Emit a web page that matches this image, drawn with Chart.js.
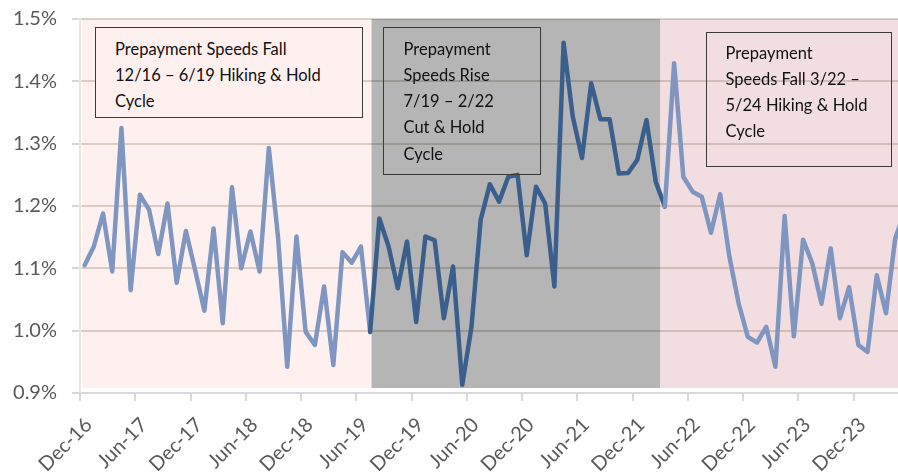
<!DOCTYPE html>
<html><head><meta charset="utf-8">
<script src="https://cdn.jsdelivr.net/npm/chart.js@4.4.1/dist/chart.umd.min.js"></script>
<style>
html,body{margin:0;padding:0;background:#fff;overflow:hidden;width:898px;height:474px}
#wrap{position:relative;width:912px;height:474px}
canvas{display:block}
.note{position:absolute;border:1.5px solid #3a3a3a;font-family:Lato,"Open Sans",sans-serif;font-size:16.5px;line-height:26.3px;color:#111;box-sizing:border-box;white-space:nowrap}
</style></head>
<body>
<div id="wrap">
<canvas id="c" width="912" height="474"></canvas>
<div class="note" style="left:95px;top:27px;width:268px;height:91px;padding:7.5px 0 0 19px;background:#FFF0F0">Prepayment Speeds Fall<br>12/16 – 6/19 Hiking &amp; Hold<br>Cycle</div>
<div class="note" style="left:383px;top:27px;width:158px;height:148px;padding:7.5px 0 0 19.5px">Prepayment<br>Speeds Rise<br>7/19 – 2/22<br>Cut &amp; Hold<br>Cycle</div>
<div class="note" style="left:706px;top:32px;width:186px;height:135px;padding:6.5px 0 0 18.5px">Prepayment<br>Speeds Fall 3/22 –<br>5/24 Hiking &amp; Hold<br>Cycle</div>
</div>
<script>
// Categories (monthly)
const months = [
"Dec-16","Jan-17","Feb-17","Mar-17","Apr-17","May-17","Jun-17","Jul-17","Aug-17","Sep-17","Oct-17","Nov-17",
"Dec-17","Jan-18","Feb-18","Mar-18","Apr-18","May-18","Jun-18","Jul-18","Aug-18","Sep-18","Oct-18","Nov-18",
"Dec-18","Jan-19","Feb-19","Mar-19","Apr-19","May-19","Jun-19","Jul-19","Aug-19","Sep-19","Oct-19","Nov-19",
"Dec-19","Jan-20","Feb-20","Mar-20","Apr-20","May-20","Jun-20","Jul-20","Aug-20","Sep-20","Oct-20","Nov-20",
"Dec-20","Jan-21","Feb-21","Mar-21","Apr-21","May-21","Jun-21","Jul-21","Aug-21","Sep-21","Oct-21","Nov-21",
"Dec-21","Jan-22","Feb-22","Mar-22","Apr-22","May-22","Jun-22","Jul-22","Aug-22","Sep-22","Oct-22","Nov-22",
"Dec-22","Jan-23","Feb-23","Mar-23","Apr-23","May-23","Jun-23","Jul-23","Aug-23","Sep-23","Oct-23","Nov-23",
"Dec-23","Jan-24","Feb-24","Mar-24","Apr-24","May-24"
];
// Series values (% prepayment speed)
const speeds = [
1.105,1.135,1.188,1.095,1.325,1.065,1.218,1.194,1.123,1.204,
1.077,1.160,1.097,1.032,1.164,1.012,1.230,1.100,1.159,1.095,
1.293,1.150,0.942,1.151,0.998,0.977,1.071,0.945,1.126,1.109,
1.135,0.998,1.180,1.135,1.068,1.143,1.014,1.151,1.145,1.020,
1.103,0.913,1.006,1.178,1.235,1.207,1.247,1.250,1.121,1.231,
1.204,1.071,1.462,1.343,1.277,1.397,1.339,1.339,1.252,1.253,
1.274,1.338,1.239,1.199,1.429,1.247,1.223,1.215,1.157,1.219,
1.119,1.044,0.990,0.981,1.006,0.942,1.184,0.991,1.146,1.108,
1.043,1.132,1.020,1.070,0.977,0.966,1.089,1.028,1.148,1.190
];
// Y tick values
const yTicks = [0.9,1.0,1.1,1.2,1.3,1.4,1.5];
// Cycle periods (category index positions)
const bandFrom = [-0.28, 31.15, 62.48];
const bandTo   = [31.15, 62.48, 90];
const bandFill = ["rgba(255,0,0,0.058)","rgba(0,0,0,0.29)","rgba(180,60,70,0.17)"];
const cutStart = 31, cutEnd = 63;
const tickEvery = 6;

const light = "#7F96C1", dark = "#3B5F8D";

const bandPlugin = {
  id: "bands",
  beforeDatasetsDraw(chart) {
    const xs = chart.scales.x, ys = chart.scales.y, ctx = chart.ctx, a = chart.chartArea;
    const x0 = xs.getPixelForValue(0);
    const w = xs.getPixelForValue(1) - x0;
    const top = ys.getPixelForValue(1.5), bot = ys.getPixelForValue(0.908);
    ctx.save();
    ctx.beginPath(); ctx.rect(a.left, a.top, a.right - a.left, a.bottom - a.top); ctx.clip();
    for (let i = 0; i < bandFrom.length; i++) {
      ctx.fillStyle = bandFill[i];
      ctx.fillRect(x0 + bandFrom[i] * w, top, (bandTo[i] - bandFrom[i]) * w, bot - top);
    }
    ctx.restore();
  },
  afterDraw(chart) {
    // category-boundary tick marks every 6 months
    const xs = chart.scales.x, ctx = chart.ctx, a = chart.chartArea;
    const w = xs.getPixelForValue(1) - xs.getPixelForValue(0);
    ctx.save();
    ctx.strokeStyle = "#D9D9D9"; ctx.lineWidth = 2;
    for (let i = 0; i < months.length; i += tickEvery) {
      const px = Math.round(xs.getPixelForValue(i) - w / 2);
      ctx.beginPath(); ctx.moveTo(px, a.bottom); ctx.lineTo(px, a.bottom + 8); ctx.stroke();
    }
    ctx.restore();
  }
};

Chart.defaults.font.family = "Lato, 'Open Sans', sans-serif";

new Chart(document.getElementById("c"), {
  type: "line",
  data: {
    labels: months,
    datasets: [{
      data: speeds,
      borderColor: light,
      borderWidth: 4.5,
      pointRadius: 0,
      tension: 0,
      borderJoinStyle: "round",
      borderCapStyle: "round",
      segment: {
        borderColor: c => (c.p0DataIndex >= cutStart && c.p1DataIndex <= cutEnd) ? dark : light
      }
    }]
  },
  options: {
    responsive: false,
    animation: false,
    layout: { padding: { top: 19, right: 3, left: 0, bottom: 0 } },
    plugins: { legend: { display: false }, tooltip: { enabled: false } },
    scales: {
      x: {
        type: "category",
        offset: true,
        afterFit: s => { s.height = 81; s.paddingLeft = 0; s.paddingRight = 0; },
        grid: { display: true, drawOnChartArea: false, drawTicks: false, color: "rgba(0,0,0,0)" },
        border: { display: true, color: "#D9D9D9", width: 2 },
        ticks: {
          autoSkip: false,
          maxRotation: 45,
          minRotation: 45,
          padding: 20,
          labelOffset: 4,
          color: "#595959",
          font: { size: 20 },
          callback: (v, i) => (i % tickEvery === 0) ? months[i] : null
        }
      },
      y: {
        min: 0.9, max: 1.5,
        afterFit: s => { s.width = 80; s.paddingTop = 0; s.paddingBottom = 0; },
        afterBuildTicks: s => { s.ticks = yTicks.map(v => ({ value: v })); },
        grid: { color: "#DAD7D0", lineWidth: 2, tickLength: 8, drawTicks: true },
        border: { display: true, color: "#E9E6DC", width: 2 },
        ticks: {
          padding: 15,
          color: "#595959",
          font: { size: 20 },
          callback: v => v.toFixed(1) + "%"
        }
      }
    }
  },
  plugins: [bandPlugin]
});
</script>
</body></html>
